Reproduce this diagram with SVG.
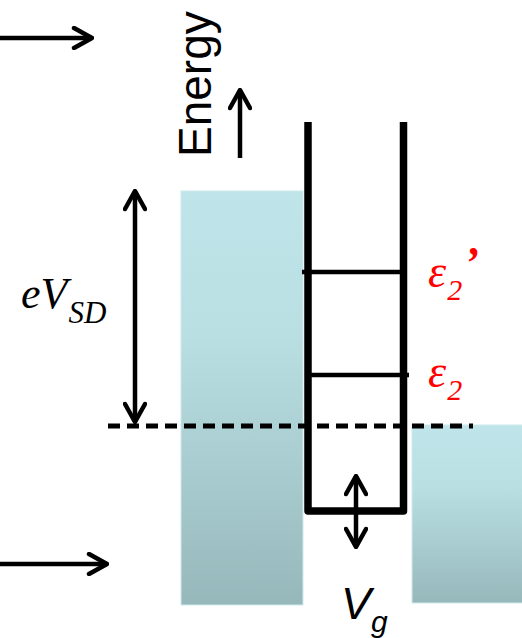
<svg xmlns="http://www.w3.org/2000/svg" width="522" height="638" viewBox="0 0 522 638">
<defs>
  <linearGradient id="lead" x1="0" y1="0" x2="0" y2="1">
    <stop offset="0" stop-color="#bfe4e9"/>
    <stop offset="0.35" stop-color="#b9dfe3"/>
    <stop offset="1" stop-color="#97b8bb"/>
  </linearGradient>
  <marker id="head" markerUnits="userSpaceOnUse" viewBox="-22 -12 24 24" refX="0" refY="0" markerWidth="24" markerHeight="24" orient="auto-start-reverse">
    <path d="M-18,-10 L0,0 L-18,10" fill="none" stroke="#000" stroke-width="4.5" stroke-linecap="round" stroke-linejoin="round"/>
  </marker>
</defs>
<style>
  .arr { stroke: #000; stroke-width: 4.5; fill: none; marker-end: url(#head); }
  .dbl { stroke: #000; stroke-width: 4.5; fill: none; marker-end: url(#head); marker-start: url(#head); }
  .well { stroke: #000; stroke-width: 7.5; fill: none; stroke-linejoin: round; }
  .lvl { stroke: #000; stroke-width: 4.5; }
  .red { fill: #ff0000; font-family: "Liberation Serif", serif; font-style: italic; }
  .tim { fill: #000; font-family: "Liberation Serif", serif; font-style: italic; }
  .san { fill: #000; font-family: "Liberation Sans", Arial, sans-serif; }
</style>

<g id="leads">
  <rect id="lead-left" x="181" y="191" width="122" height="414" fill="url(#lead)" stroke="#cfeaee" stroke-width="1"/>
  <rect id="lead-right" x="412" y="425" width="112" height="178" fill="url(#lead)" stroke="#cfeaee" stroke-width="1"/>
</g>

<g id="dot">
  <path class="well" d="M308,122 V511 H403.5 V122"/>
  <line id="level-e2p" class="lvl" x1="302" y1="272" x2="401" y2="272"/>
  <line id="level-e2" class="lvl" x1="310" y1="375" x2="409" y2="375"/>
</g>

<g id="fermi">
  <line x1="108" y1="426" x2="473" y2="426" stroke="#000" stroke-width="5" stroke-dasharray="12 7"/>
</g>

<g id="connectors">
  <line class="arr" x1="0" y1="38" x2="92" y2="38"/>
  <line class="arr" x1="0" y1="564" x2="107" y2="564"/>
  <line class="arr" x1="240" y1="158" x2="240" y2="90"/>
  <line class="dbl" x1="135" y1="191" x2="135" y2="422"/>
  <line class="dbl" x1="356" y1="476" x2="356" y2="547"/>
</g>

<g id="labels">
  <text id="energy" class="san" font-size="46" transform="translate(211,157) rotate(-90)">Energy</text>
  <text id="evsd" class="tim" font-size="44" x="21" y="308">eV<tspan font-size="31" dx="1" dy="15">SD</tspan></text>
  <text id="e2p" class="red" font-size="46" x="428" y="287">ε<tspan font-size="30" dx="1" dy="13">2</tspan><tspan font-size="44" font-weight="bold" dx="2" dy="-23">’</tspan></text>
  <text id="e2" class="red" font-size="46" x="428" y="387">ε<tspan font-size="30" dx="1" dy="13">2</tspan></text>
  <text id="vg" class="san" font-size="45" font-style="italic" x="341" y="619">V<tspan font-size="30" dy="13">g</tspan></text>
</g>
</svg>
